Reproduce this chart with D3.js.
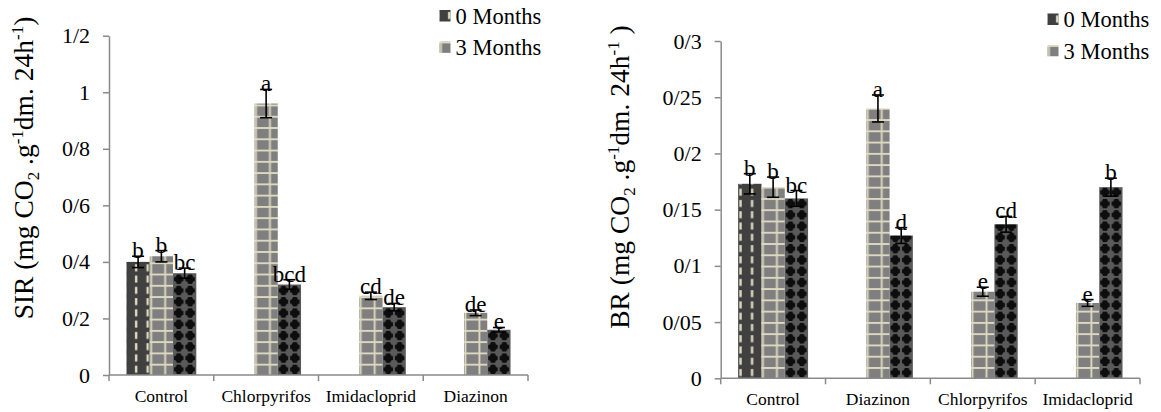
<!DOCTYPE html>
<html>
<head>
<meta charset="utf-8">
<script src="https://cdn.jsdelivr.net/npm/d3@7"></script>
<style>
  html, body { margin: 0; padding: 0; background: #fff; }
  svg { display: block; }
  svg text { font-family: "Liberation Serif", "Times New Roman", serif; }
</style>
</head>
<body>
<svg id="chart" width="1161" height="412"></svg>
<script>
// ---- SIR panel data ----
const sirCategories = ["Control", "Chlorpyrifos", "Imidacloprid", "Diazinon"];
const sirMonth0 = [0.40, null, null, null];
const sirMonth3 = [0.42, 0.96, 0.28, 0.22];
const sirThird  = [0.36, 0.32, 0.24, 0.16];
const sirErr0 = [0.02, null, null, null];
const sirErr3 = [0.02, 0.05, 0.013, 0.01];
const sirErrThird = [0.018, 0.017, 0.013, 0.008];
const sirLetters0 = ["b", null, null, null];
const sirLetters3 = ["b", "a", "cd", "de"];
const sirLettersThird = ["bc", "bcd", "de", "e"];
const sirTicks = [0, 0.2, 0.4, 0.6, 0.8, 1, 1.2];
const sirTickLabels = ["0", "0/2", "0/4", "0/6", "0/8", "1", "1/2"];

// ---- BR panel data ----
const brCategories = ["Control", "Diazinon", "Chlorpyrifos", "Imidacloprid"];
const brMonth0 = [0.173, null, null, null];
const brMonth3 = [0.17, 0.24, 0.077, 0.067];
const brThird  = [0.16, 0.127, 0.137, 0.17];
const brErr0 = [0.009, null, null, null];
const brErr3 = [0.009, 0.012, 0.004, 0.003];
const brErrThird = [0.007, 0.007, 0.007, 0.008];
const brLetters0 = ["b", null, null, null];
const brLetters3 = ["b", "a", "e", "e"];
const brLettersThird = ["bc", "d", "cd", "b"];
const brTicks = [0, 0.05, 0.1, 0.15, 0.2, 0.25, 0.3];
const brTickLabels = ["0", "0/05", "0/1", "0/15", "0/2", "0/25", "0/3"];

const legendLabels = ["0 Months", "3 Months"];

const svg = d3.select("#chart");
const defs = svg.append("defs");
const BEIGE = "#ddd8c0";
const AXIS = "#8a8a8a";
const SERIF = "'Liberation Serif', 'Times New Roman', serif";

// Fill patterns: dashed verticals, grid, and black crosses
function makePattern(id, kind, x0, y0, dashOffset) {
  let w, h = 11.27;
  if (kind === 0) w = 11.5; else if (kind === 1) w = 14; else w = 11.4;
  const p = defs.append("pattern")
    .attr("id", id)
    .attr("patternUnits", "userSpaceOnUse")
    .attr("x", x0).attr("y", y0)
    .attr("width", w).attr("height", h);
  if (kind === 0) {
    p.append("rect").attr("width", w).attr("height", h).attr("fill", "#404040");
    p.append("rect").attr("x", dashOffset).attr("y", 2).attr("width", 2.4).attr("height", 7).attr("fill", BEIGE);
  } else if (kind === 1) {
    p.append("rect").attr("width", w).attr("height", h).attr("fill", "#7f7f7f");
    p.append("rect").attr("x", 0.5).attr("y", 0).attr("width", 1.9).attr("height", h).attr("fill", BEIGE);
    p.append("rect").attr("x", 0).attr("y", 0).attr("width", w).attr("height", 1.9).attr("fill", BEIGE);
  } else {
    p.append("rect").attr("width", w).attr("height", h).attr("fill", "#5a5a5a");
    const cx = w / 2, cy = h / 2;
    const a = 1.9, b = 4.7, c = 3.0;
    const pts = [
      [cx - a, cy - b], [cx + a, cy - b], [cx + c, cy - c + 0.6], [cx + b, cy - a],
      [cx + b, cy + a], [cx + c, cy + c - 0.6], [cx + a, cy + b], [cx - a, cy + b],
      [cx - c, cy + c - 0.6], [cx - b, cy + a], [cx - b, cy - a], [cx - c, cy - c + 0.6]
    ];
    p.append("polygon").attr("points", pts.map(d => d.join(",")).join(" ")).attr("fill", "#0d0d0d");
  }
  return `url(#${id})`;
}

function drawPanel(cfg) {
  const g = svg.append("g");
  const x0 = d3.scaleBand().domain(cfg.categories).range([cfg.left, cfg.right]).padding(0);
  const seriesIdx = [0, 1, 2];
  const x1 = d3.scaleBand().domain(seriesIdx).range([0, x0.bandwidth()])
    .paddingInner(0).paddingOuter(0.75);
  const y = d3.scaleLinear().domain([cfg.ticks[0], cfg.ticks[cfg.ticks.length - 1]])
    .range([cfg.bottom, cfg.top]);

  const rows = [];
  cfg.categories.forEach((cat, ci) => {
    cfg.values.forEach((vals, si) => {
      if (vals[ci] == null) return;
      rows.push({ cat, ci, si, v: vals[ci], e: cfg.errors[si][ci], lab: cfg.letters[si][ci] });
    });
  });

  // bars
  g.selectAll("rect.bar").data(rows).join("rect")
    .attr("class", "bar")
    .attr("x", d => x0(d.cat) + x1(d.si))
    .attr("width", x1.bandwidth())
    .attr("y", d => y(d.v))
    .attr("height", d => y(0) - y(d.v))
    .attr("fill", d => makePattern(`${cfg.id}-${d.si}-${d.ci}`, d.si, x0(d.cat) + x1(d.si), y(0), cfg.dashOffset));

  // y axis
  const yAxis = d3.axisLeft(y).tickValues(cfg.ticks)
    .tickFormat((d, i) => cfg.tickLabels[i]).tickSizeInner(6).tickSizeOuter(0).tickPadding(13);
  const ya = g.append("g").attr("transform", `translate(${cfg.left},0)`).call(yAxis);
  ya.attr("font-family", null).attr("font-size", null);
  ya.select(".domain").attr("stroke", AXIS).attr("stroke-width", 1.5);
  ya.selectAll(".tick line").attr("stroke", AXIS).attr("stroke-width", 1.5);
  ya.selectAll(".tick text").attr("fill", "#000")
    .style("font-family", SERIF).style("font-size", "22px");

  // x axis: line + boundary ticks + category labels
  g.append("line").attr("x1", cfg.left).attr("x2", cfg.right)
    .attr("y1", y(0)).attr("y2", y(0)).attr("stroke", AXIS).attr("stroke-width", 1.5);
  const bounds = cfg.categories.map(c => x0(c)).concat([cfg.right]);
  g.selectAll("line.xt").data(bounds).join("line").attr("class", "xt")
    .attr("x1", d => d).attr("x2", d => d)
    .attr("y1", y(0)).attr("y2", y(0) + 6).attr("stroke", AXIS).attr("stroke-width", 1.5);
  g.selectAll("text.cat").data(cfg.categories).join("text").attr("class", "cat")
    .attr("x", d => x0(d) + x0.bandwidth() / 2)
    .attr("y", cfg.catY)
    .attr("text-anchor", "middle").style("font-size", "17.5px").text(d => d);

  // error bars
  const eb = g.selectAll("g.err").data(rows.filter(d => d.e != null)).join("g").attr("class", "err")
    .attr("transform", d => `translate(${x0(d.cat) + x1(d.si) + x1.bandwidth() / 2},0)`);
  eb.append("line").attr("y1", d => y(d.v + d.e)).attr("y2", d => y(d.v - d.e))
    .attr("stroke", "#000").attr("stroke-width", 1.6);
  eb.append("line").attr("x1", -6).attr("x2", 6).attr("y1", d => y(d.v + d.e)).attr("y2", d => y(d.v + d.e))
    .attr("stroke", "#000").attr("stroke-width", 1.6);
  eb.append("line").attr("x1", -6).attr("x2", 6).attr("y1", d => y(d.v - d.e)).attr("y2", d => y(d.v - d.e))
    .attr("stroke", "#000").attr("stroke-width", 1.6);

  // significance letters
  g.selectAll("text.lab").data(rows.filter(d => d.lab)).join("text").attr("class", "lab")
    .attr("x", d => x0(d.cat) + x1(d.si) + x1.bandwidth() / 2)
    .attr("y", d => y(d.v + (d.e || 0)) + 2)
    .attr("text-anchor", "middle").style("font-size", "23px").text(d => d.lab);

  // axis title
  const t = g.append("text")
    .attr("transform", `translate(${cfg.titleX},${cfg.titleY}) rotate(-90)`)
    .attr("text-anchor", "middle").style("font-size", "27.5px");
  t.append("tspan").text(cfg.titleName + " (mg CO");
  t.append("tspan").style("font-size", "17px").attr("dy", 6).text("2");
  t.append("tspan").attr("dy", -6).text(" .g");
  t.append("tspan").style("font-size", "17px").attr("dy", -10).text("-1");
  t.append("tspan").attr("dy", 10).text("dm. 24h");
  t.append("tspan").style("font-size", "17px").attr("dy", -10).text("-1");
  t.append("tspan").attr("dy", 10).text(cfg.titleEnd);

  // legend
  const lg = g.append("g");
  legendLabels.forEach((lab, i) => {
    const ly = cfg.legendY + i * 31.5;
    lg.append("rect").attr("x", cfg.legendX).attr("y", ly).attr("width", 11).attr("height", 11.5)
      .attr("fill", makePattern(`${cfg.id}-leg-${i}`, i, cfg.legendX, ly, 8.5));
    lg.append("text").attr("x", cfg.legendX + 16).attr("y", ly + 13.5)
      .style("font-size", "22.5px").text(lab);
  });
}

drawPanel({
  id: "sir", categories: sirCategories,
  values: [sirMonth0, sirMonth3, sirThird],
  errors: [sirErr0, sirErr3, sirErrThird],
  letters: [sirLetters0, sirLetters3, sirLettersThird],
  ticks: sirTicks, tickLabels: sirTickLabels,
  left: 109, right: 528, bottom: 375, top: 35.7, catY: 402,
  titleName: "SIR", titleEnd: ")", titleX: 33, titleY: 168,
  legendX: 439.5, legendY: 10, dashOffset: 8.5
});

drawPanel({
  id: "br", categories: brCategories,
  values: [brMonth0, brMonth3, brThird],
  errors: [brErr0, brErr3, brErrThird],
  letters: [brLetters0, brLetters3, brLettersThird],
  ticks: brTicks, tickLabels: brTickLabels,
  left: 720.7, right: 1140, bottom: 378.3, top: 41, catY: 405,
  titleName: "BR", titleEnd: " )", titleX: 629, titleY: 177,
  legendX: 1047.5, legendY: 13.5, dashOffset: 1.2
});
</script>
</body>
</html>
